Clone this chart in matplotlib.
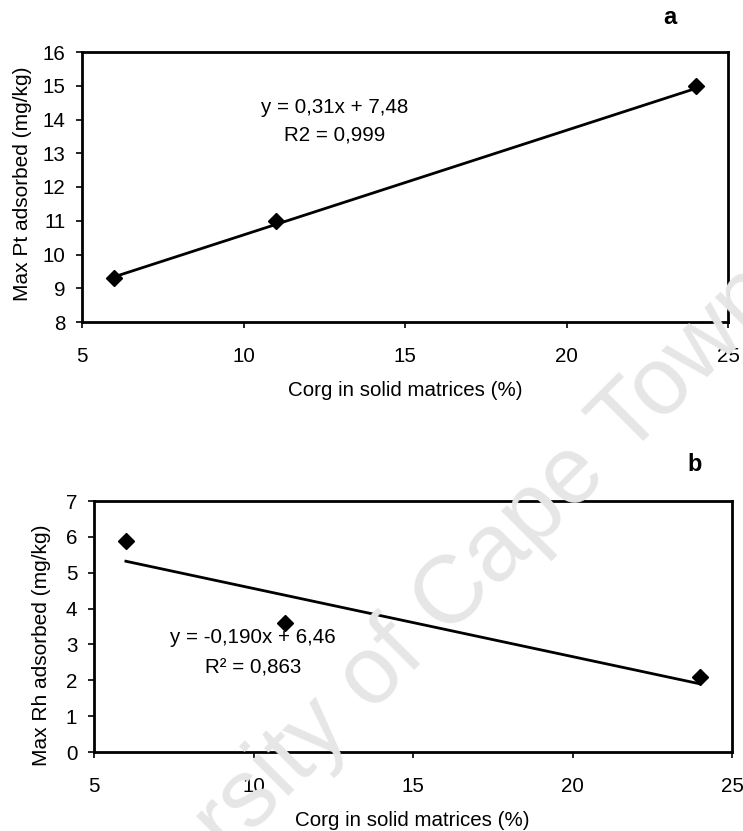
import matplotlib
matplotlib.use("Agg")
import matplotlib.pyplot as plt
import numpy as np

plt.rcParams["font.family"] = ["Liberation Sans", "DejaVu Sans"]

# Panel a: Pt
corg_pt = [6, 11, 24]
pt_max = [9.3, 11.0, 15.0]
pt_slope, pt_icpt = 0.31, 7.48
pt_eq = "y = 0,31x + 7,48"
pt_r2 = "R2 = 0,999"

# Panel b: Rh
corg_rh = [6, 11, 24]
rh_max = [5.88, 3.59, 2.09]
rh_slope, rh_icpt = -0.190, 6.46
rh_eq = "y = -0,190x + 6,46"
rh_r2 = "R\u00b2 = 0,863"

x_ticks = [5, 10, 15, 20, 25]
pt_yticks = list(range(8, 17))
rh_yticks = list(range(0, 8))
xlabel = "Corg in solid matrices (%)"

W, H = 743, 831
fig = plt.figure(figsize=(W / 100, H / 100), dpi=100)

fs = 14.8


def px_axes(left, top, right, bottom):
    return fig.add_axes([left / W, 1 - bottom / H, (right - left) / W, (bottom - top) / H])


def style(ax):
    ax.patch.set_alpha(0)
    for s in ax.spines.values():
        s.set_linewidth(2.0)
        s.set_color("black")
    ax.tick_params(axis="both", direction="out", length=4, width=1.2, labelsize=fs)
    ax.tick_params(axis="y", pad=8)
    ax.tick_params(axis="x", pad=14)


# Background stamp
fig.text(420 / W, 1 - 665 / H, "University of Cape Town", fontsize=69,
         color="#e6e6e6", rotation=45, ha="center", va="baseline",
         rotation_mode="anchor", zorder=0)

# ---- panel a ----
ax1 = px_axes(82, 52, 728, 322)
style(ax1)
xf = np.array([min(corg_pt), max(corg_pt)])
ax1.plot(xf, pt_slope * xf + pt_icpt, color="black", lw=2.0, zorder=2)
ax1.plot(corg_pt, pt_max, linestyle="none", marker="D", markersize=8,
         color="black", zorder=3)
ax1.set_xlim(5, 25)
ax1.set_ylim(8, 16)
ax1.set_xticks(x_ticks)
ax1.set_yticks(pt_yticks)
ax1.text(12.83, 14.37, pt_eq, ha="center", va="center", fontsize=fs)
ax1.text(12.83, 13.54, pt_r2, ha="center", va="center", fontsize=fs)
fig.text(405 / W, 1 - 390 / H, xlabel, ha="center", va="center", fontsize=fs)
fig.text(23 / W, 1 - 184 / H, "Max Pt adsorbed (mg/kg)", ha="center", va="center",
         rotation=90, fontsize=15)
fig.text(670 / W, 1 - 18 / H, "a", ha="center", va="center", fontsize=17,
         fontweight="bold")

# ---- panel b ----
ax2 = px_axes(94, 501, 732, 752)
style(ax2)
xf = np.array([min(corg_rh), max(corg_rh)])
ax2.plot(xf, rh_slope * xf + rh_icpt, color="black", lw=2.0, zorder=2)
ax2.plot(corg_rh, rh_max, linestyle="none", marker="D", markersize=8,
         color="black", zorder=3)
ax2.set_xlim(5, 25)
ax2.set_ylim(0, 7)
ax2.set_xticks(x_ticks)
ax2.set_yticks(rh_yticks)
ax2.text(9.98, 3.18, rh_eq, ha="center", va="center", fontsize=fs)
ax2.text(9.98, 2.34, rh_r2, ha="center", va="center", fontsize=fs)
fig.text(412 / W, 1 - 820 / H, xlabel, ha="center", va="center", fontsize=fs)
fig.text(42 / W, 1 - 645 / H, "Max Rh adsorbed (mg/kg)", ha="center", va="center",
         rotation=90, fontsize=15)
fig.text(695 / W, 1 - 465 / H, "b", ha="center", va="center", fontsize=17,
         fontweight="bold")

fig.savefig("out.png", dpi=100)
